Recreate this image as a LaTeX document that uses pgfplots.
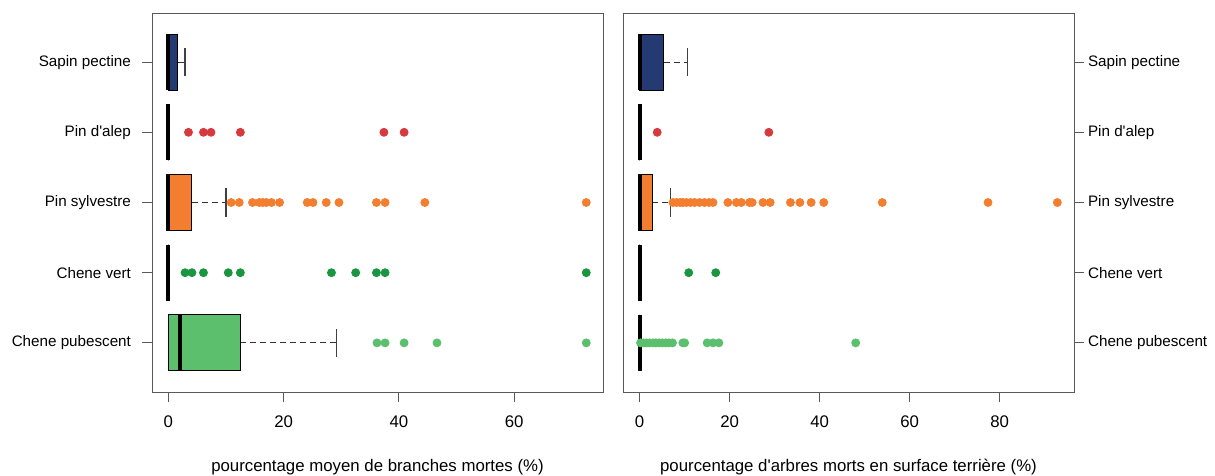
\documentclass[border=0pt]{standalone}
\usepackage{fontspec}
\setmainfont{Liberation Sans}
\usepackage{pgfplots}
\pgfplotsset{compat=1.18}
\usepgfplotslibrary{statistics}

\definecolor{navy}{RGB}{36,58,115}
\definecolor{rred}{RGB}{214,58,63}
\definecolor{rorange}{RGB}{244,126,48}
\definecolor{rgreen}{RGB}{26,150,65}
\definecolor{lgreen}{RGB}{92,191,110}

\pgfplotsset{
  rpanel/.style={
    scale only axis, width=225.5pt, height=189.5pt,
    ymin=0.3, ymax=5.7,
    ytick={1,2,3,4,5},
    yticklabels={Chene pubescent, Chene vert, Pin sylvestre,
                 Pin d\textquotesingle alep, Sapin pectine},
    axis line style={black!65},
    tick style={black!65, line width=0.5pt},
    major tick length=5pt,
    tick align=outside,
    xtick pos=bottom,
    font=\fontsize{8.4}{10}\selectfont,
    /pgf/number format/assume math mode=true,
    xticklabel style={anchor=center, yshift=-10pt},
    xlabel style={at={(axis description cs:0.5,0)}, anchor=center, yshift=-37.5pt},
    boxplot/box extend=0.8,
    boxplot/whisker extend=0.4,
    clip=false,
  },
  rbox/.style={
    color=#1, mark=*, mark size=2pt, mark options={draw=none, fill=#1},
    boxplot/every box/.style={draw=black, fill=#1, line width=0.5pt},
    boxplot/every median/.style={draw=black, line width=2pt},
    boxplot/draw/lower whisker/.code={},
    boxplot/draw/upper whisker/.code={%
      \draw[black!80, line width=0.6pt, dash pattern=on 3pt off 2pt]
        (boxplot box cs:\pgfplotsboxplotvalue{upper quartile},0.5) --
        (boxplot box cs:\pgfplotsboxplotvalue{upper whisker},0.5);
      \draw[black!75, line width=0.6pt]
        (boxplot whisker cs:\pgfplotsboxplotvalue{upper whisker},0) --
        (boxplot whisker cs:\pgfplotsboxplotvalue{upper whisker},1);
    },
  },
}

\begin{document}
\begin{tikzpicture}
\useasboundingbox (-76pt,-42pt) rectangle (531.5pt,196pt);

% left: branches mortes
\begin{axis}[rpanel,
    xmin=-2.83, xmax=75.4, xtick={0,20,40,60},
    ytick pos=left,
    yticklabel style={anchor=east, xshift=-2pt, font=\fontsize{7.6}{9}\selectfont},
    xlabel={pourcentage moyen de branches mortes (\%)}]
\addplot[rbox=lgreen, boxplot prepared={draw position=1, lower whisker=0,
  lower quartile=0, median=2.0, upper quartile=12.5, upper whisker=29.2}]
  coordinates {(0,36.2) (0,37.6) (0,40.9) (0,46.6) (0,72.5)};
\addplot[rbox=rgreen, boxplot prepared={draw position=2, lower whisker=0,
  lower quartile=0, median=0, upper quartile=0, upper whisker=0}]
  coordinates {(0,2.9) (0,4.1) (0,6.1) (0,10.4) (0,12.5) (0,28.3) (0,32.5)
               (0,36.1) (0,37.6) (0,72.5)};
\addplot[rbox=rorange, boxplot prepared={draw position=3, lower whisker=0,
  lower quartile=0, median=0, upper quartile=4.1, upper whisker=10.0}]
  coordinates {(0,10.9) (0,12.3) (0,14.6) (0,15.8) (0,16.4) (0,17.0) (0,17.9)
               (0,19.3) (0,24.1) (0,25.1) (0,27.4) (0,29.6) (0,36.1) (0,37.6)
               (0,44.5) (0,72.5)};
\addplot[rbox=rred, boxplot prepared={draw position=4, lower whisker=0,
  lower quartile=0, median=0, upper quartile=0, upper whisker=0}]
  coordinates {(0,3.5) (0,6.1) (0,7.4) (0,12.5) (0,37.4) (0,40.9)};
\addplot[rbox=navy, boxplot prepared={draw position=5, lower whisker=0,
  lower quartile=0, median=0, upper quartile=1.6, upper whisker=2.9}]
  coordinates {};
\end{axis}

% right: arbres morts
\begin{axis}[rpanel, at={(235.5pt,0pt)},
    xmin=-3.7, xmax=96.5, xtick={0,20,40,60,80},
    ytick pos=right, yticklabel pos=right,
    yticklabel style={anchor=west, xshift=-1.5pt, font=\fontsize{7.6}{9}\selectfont},
    xlabel={pourcentage d\textquotesingle arbres morts en surface terrière (\%)}]
\addplot[rbox=lgreen, boxplot prepared={draw position=1, lower whisker=0,
  lower quartile=0, median=0, upper quartile=0, upper whisker=0}]
  coordinates {(0,0.2) (0,0.8) (0,1.5) (0,2.2) (0,3.0) (0,3.6) (0,4.3) (0,5.0)
               (0,5.8) (0,6.5) (0,7.3) (0,9.6) (0,10.0) (0,15.0) (0,16.3)
               (0,17.6) (0,48.0)};
\addplot[rbox=rgreen, boxplot prepared={draw position=2, lower whisker=0,
  lower quartile=0, median=0, upper quartile=0, upper whisker=0}]
  coordinates {(0,10.9) (0,16.9)};
\addplot[rbox=rorange, boxplot prepared={draw position=3, lower whisker=0,
  lower quartile=0, median=0, upper quartile=2.8, upper whisker=6.9}]
  coordinates {(0,7.4) (0,8.2) (0,9.0) (0,9.6) (0,10.4) (0,11.3) (0,12.2)
               (0,13.3) (0,14.4) (0,15.4) (0,16.3) (0,19.6) (0,21.5) (0,22.6)
               (0,24.4) (0,25.0) (0,27.4) (0,29.0) (0,33.5) (0,35.6) (0,38.1)
               (0,40.9) (0,53.9) (0,77.4) (0,92.8)};
\addplot[rbox=rred, boxplot prepared={draw position=4, lower whisker=0,
  lower quartile=0, median=0, upper quartile=0, upper whisker=0}]
  coordinates {(0,3.9) (0,28.7)};
\addplot[rbox=navy, boxplot prepared={draw position=5, lower whisker=0,
  lower quartile=0, median=0, upper quartile=5.3, upper whisker=10.7}]
  coordinates {};
\end{axis}
\end{tikzpicture}
\end{document}
